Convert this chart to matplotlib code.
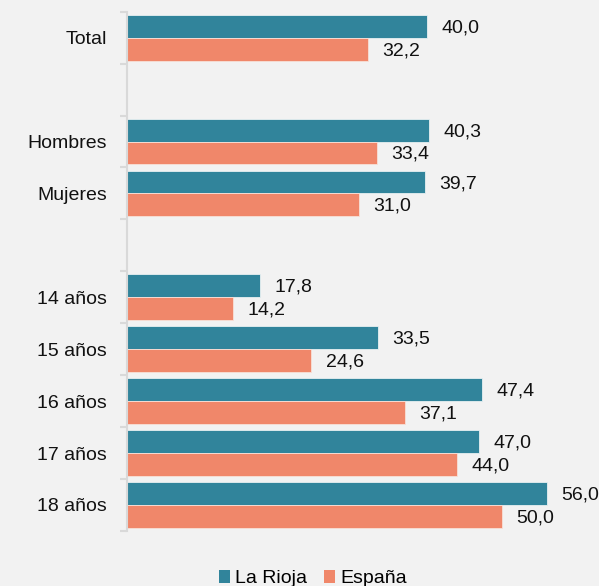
import matplotlib
matplotlib.use("Agg")
import matplotlib.pyplot as plt
import numpy as np
from matplotlib.patches import Patch

categories = ["Total", "", "Hombres", "Mujeres", "", "14 años", "15 años", "16 años", "17 años", "18 años"]
la_rioja = [40.0, None, 40.3, 39.7, None, 17.8, 33.5, 47.4, 47.0, 56.0]
espana = [32.2, None, 33.4, 31.0, None, 14.2, 24.6, 37.1, 44.0, 50.0]
series_names = ["La Rioja", "España"]
colors = ["#31849B", "#F0876A"]

plt.rcParams['font.family'] = ['Liberation Sans', 'DejaVu Sans']
bg = "#F2F2F2"
fig = plt.figure(figsize=(5.99, 5.86), dpi=100, facecolor=bg)
ax = fig.add_axes([0.212, 0.094, 0.751, 0.886], facecolor=bg)

n = len(categories)
y = np.arange(n)
h = 0.44
fs = 14
for i in range(n):
    if la_rioja[i] is not None:
        ax.barh(y[i] - h/2, la_rioja[i], height=h, color=colors[0], edgecolor="#E8F0F2", linewidth=0.6)
        ax.text(la_rioja[i] + 1.9, y[i] - h/2 + 0.03, f"{la_rioja[i]:.1f}".replace(".", ","), va="center", ha="left", fontsize=fs, color="#111111")
    if espana[i] is not None:
        ax.barh(y[i] + h/2, espana[i], height=h, color=colors[1], edgecolor="#F8E0D8", linewidth=0.6)
        ax.text(espana[i] + 1.9, y[i] + h/2 + 0.03, f"{espana[i]:.1f}".replace(".", ","), va="center", ha="left", fontsize=fs, color="#111111")

ax.set_ylim(n - 0.5, -0.5)
ax.set_xlim(0, 60)
ax.set_yticks(y)
ax.set_yticklabels(categories, fontsize=fs, color="#111111")
ax.set_yticks(np.arange(n + 1) - 0.5, minor=True)
ax.tick_params(axis="y", which="major", length=0, pad=14.4)
ax.tick_params(axis="y", which="minor", length=5, color="#D9D9D9", width=1.5)
ax.set_xticks([])
for s in ["top", "right", "bottom"]:
    ax.spines[s].set_visible(False)
ax.spines["left"].set_color("#D9D9D9")
ax.spines["left"].set_linewidth(1.5)

handles = [Patch(facecolor=c, edgecolor="none") for c in colors]
fig.legend(handles, series_names, loc="center", bbox_to_anchor=(0.522, 0.012), ncol=2, frameon=False,
           fontsize=fs, handlelength=0.6, handleheight=0.6, handletextpad=0.25, columnspacing=0.85)

fig.savefig("out.png", dpi=100, facecolor=bg)
